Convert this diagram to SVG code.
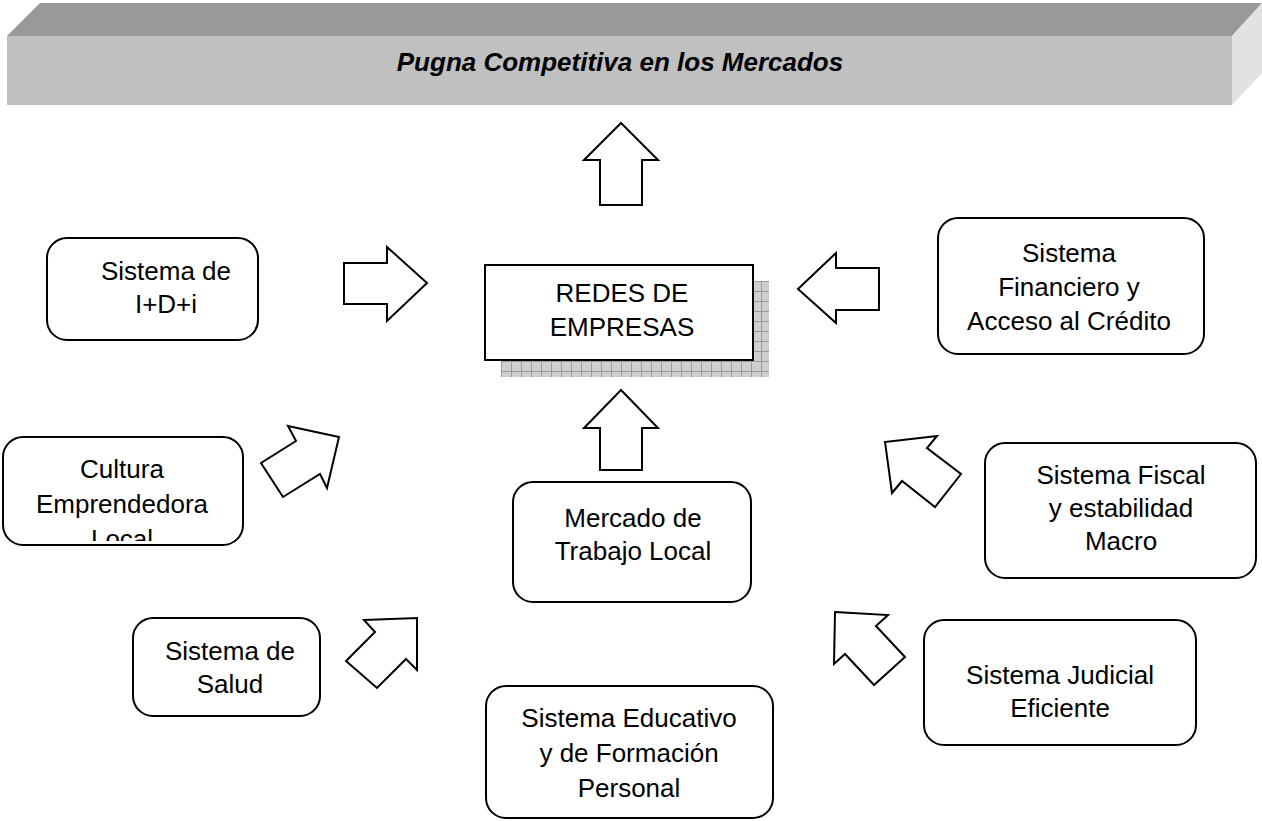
<svg xmlns="http://www.w3.org/2000/svg" width="1262" height="821" viewBox="0 0 1262 821">
<style>
.box{fill:#ffffff;stroke:#000000;stroke-width:2}
.arr{fill:#ffffff;stroke:#000000;stroke-width:2;stroke-linejoin:miter}
.t{font-family:"Liberation Sans",Arial,sans-serif;font-size:26px;fill:#000000;text-anchor:middle}
.title{font-family:"Liberation Sans",Arial,sans-serif;font-size:26px;font-weight:bold;font-style:italic;fill:#000000;text-anchor:middle}
</style>
<defs>
<pattern id="grid" width="10" height="10" patternUnits="userSpaceOnUse" x="501" y="281">
<rect width="10" height="10" fill="#cfcfcf"/>
<path d="M0 0.5H10M0.5 0V10" stroke="#9a9a9a" stroke-width="1"/>
</pattern>
<clipPath id="clipCultura"><rect x="3" y="437" width="240" height="104"/></clipPath>
</defs>
<rect width="1262" height="821" fill="#ffffff"/>

<g id="banner">
<polygon points="7,36 40,3 1262,3 1232,36" fill="#999999"/>
<rect x="7" y="36" width="1225" height="69" fill="#c0c0c0"/>
<polygon points="1232,36 1262,3 1262,73 1232,105" fill="#e2e2e2"/>
<text class="title" x="620" y="71">Pugna Competitiva en los Mercados</text>
</g>

<g id="redes">
<rect x="501" y="281" width="268" height="96" fill="url(#grid)"/>
<rect class="box" x="485" y="265" width="268" height="95"/>
<text class="t" x="622" y="302">REDES DE</text>
<text class="t" x="622" y="336">EMPRESAS</text>
</g>

<g id="idi">
<rect class="box" x="47" y="238" width="211" height="102" rx="20"/>
<text class="t" x="166" y="280">Sistema de</text>
<text class="t" x="166" y="313">I+D+i</text>
</g>

<g id="financiero">
<rect class="box" x="938" y="218" width="266" height="136" rx="20"/>
<text class="t" x="1069" y="262">Sistema</text>
<text class="t" x="1069" y="296">Financiero y</text>
<text class="t" x="1069" y="330">Acceso al Crédito</text>
</g>

<g id="cultura">
<rect class="box" x="3" y="437" width="240" height="108" rx="20"/>
<g clip-path="url(#clipCultura)">
<text class="t" x="122" y="478">Cultura</text>
<text class="t" x="122" y="513">Emprendedora</text>
<text class="t" x="122" y="548">Local</text>
</g>
</g>

<g id="fiscal">
<rect class="box" x="985" y="443" width="271" height="135" rx="20"/>
<text class="t" x="1121" y="484">Sistema Fiscal</text>
<text class="t" x="1121" y="517">y estabilidad</text>
<text class="t" x="1121" y="550">Macro</text>
</g>

<g id="mercado">
<rect class="box" x="513" y="482" width="238" height="120" rx="20"/>
<text class="t" x="633" y="527">Mercado de</text>
<text class="t" x="633" y="560">Trabajo Local</text>
</g>

<g id="salud">
<rect class="box" x="133" y="618" width="187" height="98" rx="20"/>
<text class="t" x="230" y="660">Sistema de</text>
<text class="t" x="230" y="693">Salud</text>
</g>

<g id="judicial">
<rect class="box" x="924" y="620" width="272" height="125" rx="20"/>
<text class="t" x="1060" y="684">Sistema Judicial</text>
<text class="t" x="1060" y="717">Eficiente</text>
</g>

<g id="educativo">
<rect class="box" x="486" y="686" width="287" height="132" rx="20"/>
<text class="t" x="629" y="727">Sistema Educativo</text>
<text class="t" x="629" y="762">y de Formación</text>
<text class="t" x="629" y="797">Personal</text>
</g>

<g id="connectors">
<polygon class="arr" points="621,123 658,160 642,160 642,205 600,205 600,160 584,160"/>
<polygon class="arr" points="344,263 387,263 387,247 427,283 387,321 387,304 344,304"/>
<polygon class="arr" points="798,289 836,253 836,268 879,268 879,310 836,310 836,323"/>
<polygon class="arr" points="288,426 339,437 327,488 320,474 283,497 261,463 296,441"/>
<polygon class="arr" points="885,442 937,436 927,448 961,474 935,507 902,481 892,493"/>
<polygon class="arr" points="621,390 658,428 642,428 642,470 600,470 600,428 584,428"/>
<polygon class="arr" points="364,620 417,618 417,670 406,659 377,688 346,661 375,632"/>
<polygon class="arr" points="835,612 888,615 876,626 905,657 874,685 845,654 834,664"/>
</g>
</svg>
